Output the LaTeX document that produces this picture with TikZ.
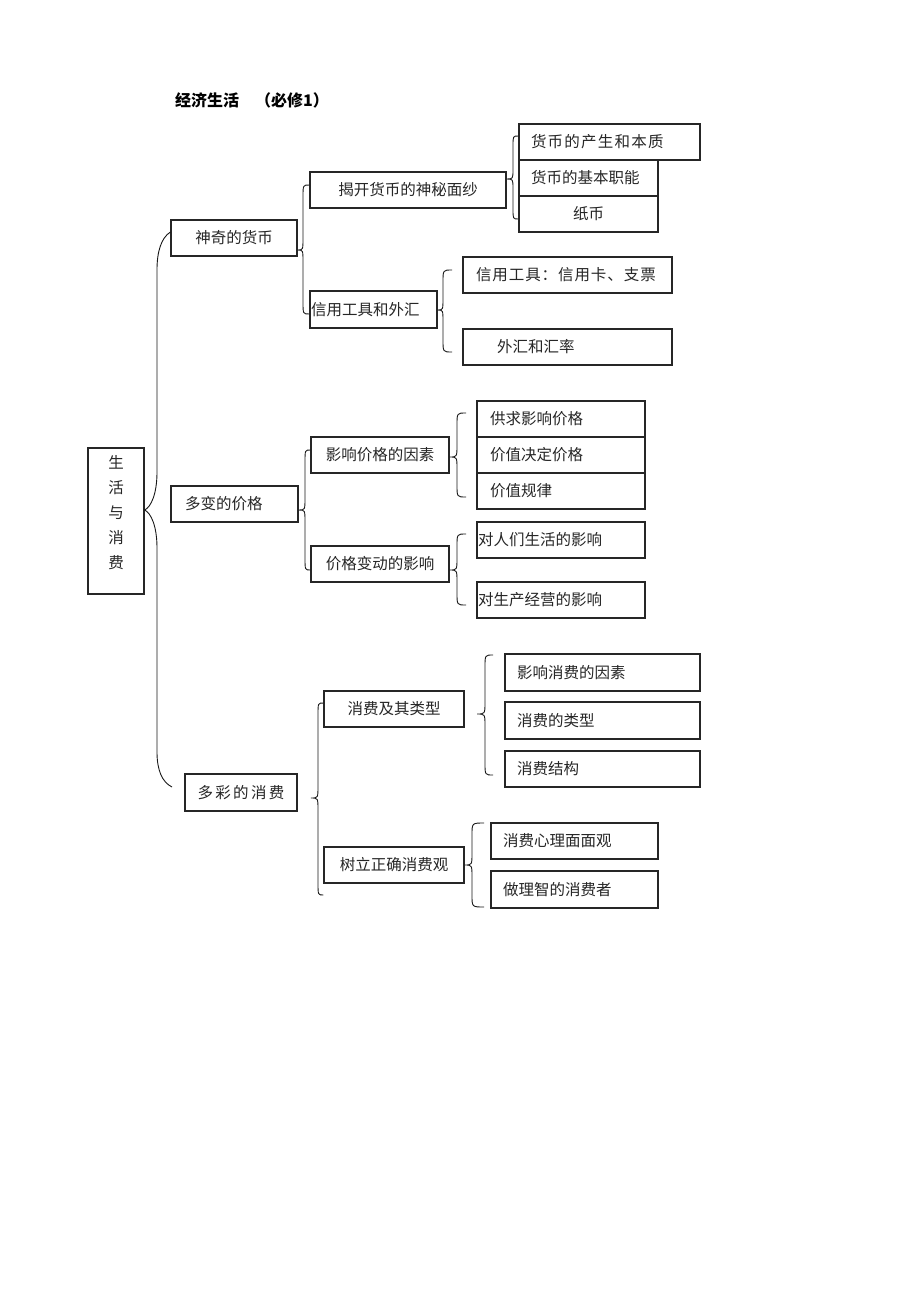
\documentclass[tikz,border=0pt]{standalone}
\usepackage{fontspec}
\usetikzlibrary{calc}
\newfontfamily\cjk{Noto Sans CJK SC}
\newfontfamily\cjkls[LetterSpace=15]{Noto Sans CJK SC}
\newfontfamily\cjklsb[LetterSpace=8]{Noto Sans CJK SC}
\newfontfamily\cjklsc[LetterSpace=6]{Noto Sans CJK SC}
\tikzset{
  box/.style={draw=black!85, line width=1.2pt, inner ysep=0pt, minimum height=36pt,
    font=\cjk\fontsize{15.5}{18}\selectfont, text=black!85},
  brace/.style={draw=black!90, line width=0.9pt},
}
\newcommand\bx[8]{%
  \pgfmathsetmacro\bxw{#4-#2-2*#6}%
  \pgfmathsetmacro\bxh{#5-#3}%
  \pgfmathsetmacro\bxcx{(#2+#4)/2}%
  \pgfmathsetmacro\bxcy{(#3+#5)/2}%
  \node[box, inner xsep=#6pt, text width=\bxw pt, minimum height=\bxh pt, align=#7] (#1) at (\bxcx,\bxcy) {#8};}
% #1 tip x coordinate, #2 top end x coord, #3 bottom end x coord, #4 xv, #5 yt, #6 yb, #7 yc, #8 r, #9 rc
\newcommand\brc[9]{%
  \draw[brace] (#2 |- 0,#5) .. controls (#4,#5) .. (#4,#5+#8) -- (#4,#7-#9)
    .. controls (#4,#7) .. (#1 |- 0,#7) .. controls (#4,#7) .. (#4,#7+#9)
    -- (#4,#6-#8) .. controls (#4,#6) .. (#3 |- 0,#6);}
\begin{document}
\begin{tikzpicture}[x=1pt,y=-1pt]
\useasboundingbox (0,0) rectangle (920,1302);
\fill[white] (0,0) rectangle (920,1302);

% title
\node[anchor=west, inner sep=0pt, font=\cjk\bfseries\fontsize{16}{18}\selectfont] (title) at (175,100) {经济生活　（必修1）};

% root
\node[box, minimum width=56pt, minimum height=146pt, inner sep=0pt] (root) at (116,521) {};
\node[inner sep=0pt, align=center, font=\cjk\fontsize{15.5}{25}\selectfont, text=black!85] (rootlbl) at (116,513) {生\\活\\与\\消\\费};

% level 1
\bx{a1}{171}{220}{297}{256}{0}{center}{神奇的货币}
\bx{a2}{171}{486}{298}{522}{14}{left}{多变的价格}
\bx{a3}{185}{774}{297}{811}{0}{center}{{\cjkls 多彩的消费}}

% level 2
\bx{b1}{310}{172}{506}{208}{0}{center}{揭开货币的神秘面纱}
\bx{b2}{310}{291}{437}{328}{1}{left}{信用工具和外汇}
\bx{b3}{311}{437}{449}{473}{0}{center}{影响价格的因素}
\bx{b4}{311}{546}{449}{582}{0}{center}{价格变动的影响}
\bx{b5}{324}{691}{464}{727}{0}{center}{消费及其类型}
\bx{b6}{324}{847}{464}{883}{0}{center}{树立正确消费观}

% level 3
\bx{c1}{519}{124}{700}{160}{12}{left}{{\cjklsb 货币的产生和本质}}
\bx{c2}{519}{160}{658}{196}{12}{left}{货币的基本职能}
\bx{c3}{519}{196}{658}{232}{0}{center}{纸币}
\bx{d1}{463}{257}{672}{293}{13}{left}{{\cjklsc 信用工具：信用卡、支票}}
\bx{d2}{463}{329}{672}{365}{34}{left}{外汇和汇率}
\bx{e1}{477}{401}{645}{437}{13}{left}{供求影响价格}
\bx{e2}{477}{437}{645}{473}{13}{left}{价值决定价格}
\bx{e3}{477}{473}{645}{509}{13}{left}{价值规律}
\bx{f1}{477}{522}{645}{558}{1}{left}{对人们生活的影响}
\bx{f2}{477}{582}{645}{618}{1}{left}{对生产经营的影响}
\bx{g1}{505}{654}{700}{691}{12}{left}{影响消费的因素}
\bx{g2}{505}{702}{700}{739}{12}{left}{消费的类型}
\bx{g3}{505}{751}{700}{787}{12}{left}{消费结构}
\bx{h1}{491}{823}{658}{859}{12}{left}{消费心理面面观}
\bx{h2}{491}{871}{658}{908}{12}{left}{做理智的消费者}

% braces
\coordinate (rbot) at (172,787);
\draw[brace] (a1.west |- 0,232) .. controls (161,238) and (157,252) .. (157,270)
  -- (157,472) .. controls (157,494) and (151,507) .. (root.east |- 0,510)
  .. controls (151,513) and (157,526) .. (157,548)
  -- (157,752) .. controls (157,770) and (162,782) .. (rbot);
\brc{a1.east}{b1.west}{b2.west}{303}{185}{314}{250}{12}{12}
\brc{b1.east}{c1.west}{c3.west}{513}{136}{219}{179}{10}{10}
\brc{b2.east}{452,0}{452,0}{443}{270}{352}{310}{12}{12}
\brc{a2.east}{b3.west}{b4.west}{305}{450}{570}{510}{12}{12}
\brc{b3.east}{466,0}{466,0}{457}{413}{497}{457}{12}{12}
\brc{b4.east}{466,0}{466,0}{457}{534}{605}{570}{12}{12}
\brc{311,0}{b5.west}{b6.west}{318}{703}{895}{798}{12}{12}
\brc{477,0}{493,0}{493,0}{485}{655}{775}{714}{12}{12}
\brc{b6.east}{484,0}{484,0}{472}{823}{907}{865}{12}{12}
\end{tikzpicture}
\end{document}
